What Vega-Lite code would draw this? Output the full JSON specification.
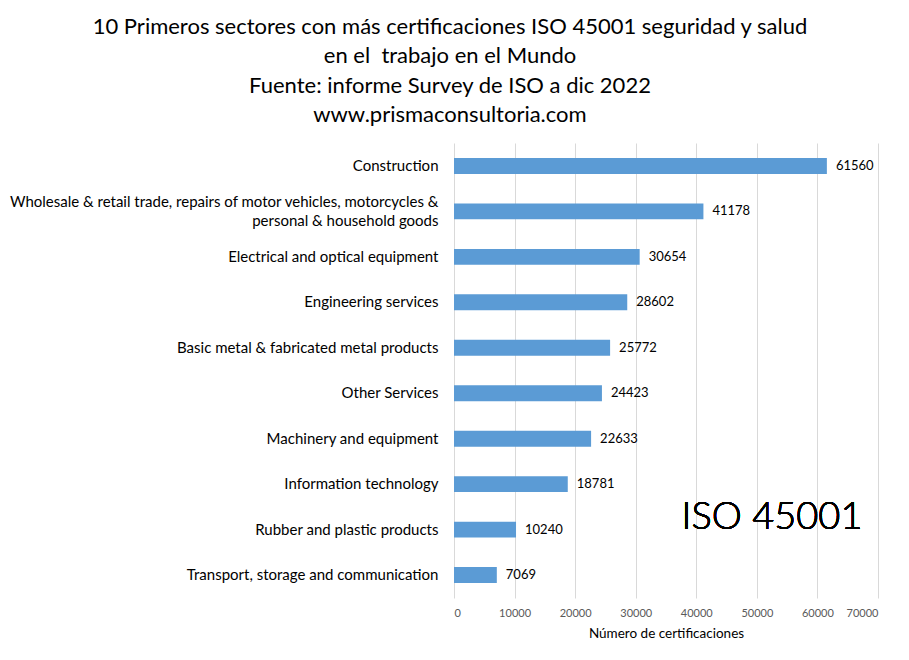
{
  "$schema": "https://vega.github.io/schema/vega-lite/v6.json",
  "autosize": "none",
  "width": 424,
  "height": 455,
  "padding": {"left": 454, "top": 143, "right": 31, "bottom": 62},
  "background": "#ffffff",
  "title": {
    "text": [
      "10 Primeros sectores con más certificaciones ISO 45001 seguridad y salud",
      "en el \u00a0trabajo en el Mundo",
      "Fuente: informe Survey de ISO a dic 2022",
      "www.prismaconsultoria.com"
    ],
    "anchor": "middle",
    "dx": -216,
    "offset": 16,
    "font": "Lato",
    "fontSize": 22,
    "fontWeight": "normal",
    "lineHeight": 29.5,
    "color": "#000000"
  },
  "data": {
    "values": [
      {"sector": "Construction", "n": 61560},
      {"sector": "Wholesale & retail trade, repairs of motor vehicles, motorcycles & personal & household goods", "n": 41178},
      {"sector": "Electrical and optical equipment", "n": 30654},
      {"sector": "Engineering services", "n": 28602},
      {"sector": "Basic metal & fabricated metal products", "n": 25772},
      {"sector": "Other Services", "n": 24423},
      {"sector": "Machinery and equipment", "n": 22633},
      {"sector": "Information technology", "n": 18781},
      {"sector": "Rubber and plastic products", "n": 10240},
      {"sector": "Transport, storage and communication", "n": 7069}
    ]
  },
  "encoding": {
    "y": {
      "field": "sector",
      "type": "nominal",
      "sort": null,
      "scale": {"paddingInner": 0.65, "paddingOuter": 0.33},
      "axis": {
        "title": null,
        "domain": false,
        "ticks": false,
        "labelPadding": 16,
        "labelFont": "Lato",
        "labelFontSize": 15,
        "labelColor": "#000000",
        "labelLimit": 460,
        "labelLineHeight": 19,
        "labelOffset": {
          "condition": {"test": "indexof(datum.value, 'Wholesale') == 0", "value": -9},
          "value": 0
        },
        "labelExpr": "datum.value == 'Wholesale & retail trade, repairs of motor vehicles, motorcycles & personal & household goods' ? ['Wholesale & retail trade, repairs of motor vehicles, motorcycles &', 'personal & household goods'] : datum.value"
      }
    },
    "x": {
      "field": "n",
      "type": "quantitative",
      "scale": {"domain": [0, 70000]},
      "axis": {
        "title": "Número de certificaciones",
        "titleFont": "Lato",
        "titleFontSize": 13.5,
        "titleFontWeight": "normal",
        "titleColor": "#000000",
        "titlePadding": 8,
        "values": [0, 10000, 20000, 30000, 40000, 50000, 60000, 70000],
        "format": "d",
        "labelOverlap": false,
        "domain": false,
        "ticks": false,
        "labelPadding": 9,
        "labelFont": "Lato",
        "labelFontSize": 11,
        "labelColor": "#595959",
        "grid": true,
        "gridColor": "#d9d9d9",
        "gridWidth": 1
      }
    }
  },
  "layer": [
    {
      "mark": {"type": "bar", "color": "#5b9bd5"}
    },
    {
      "mark": {"type": "text", "align": "left", "dx": 9, "font": "Lato", "fontSize": 13, "color": "#000000"},
      "encoding": {"text": {"field": "n", "type": "quantitative", "format": "d"}}
    },
    {
      "mark": {"type": "text", "align": "center", "baseline": "middle", "font": "Lato", "fontSize": 38, "fontWeight": 300, "color": "#000000", "dy": -12},
      "encoding": {
        "x": {"datum": 52500},
        "y": {"datum": "Rubber and plastic products"},
        "text": {"value": "ISO 45001"}
      }
    }
  ],
  "config": {"view": {"stroke": null}}
}
